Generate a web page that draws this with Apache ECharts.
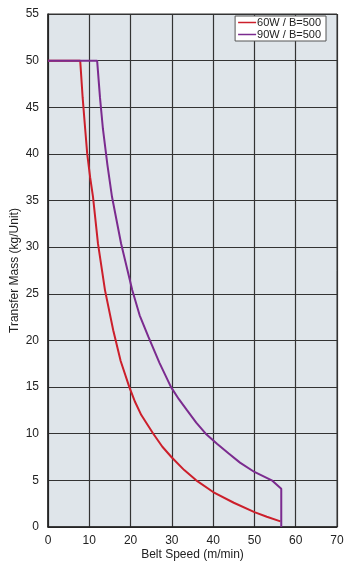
<!DOCTYPE html>
<html><head><meta charset="utf-8">
<script src="https://cdn.jsdelivr.net/npm/echarts@6/dist/echarts.min.js"></script>
<style>html,body{margin:0;padding:0;background:#fff}#c{width:357px;height:567px}</style>
</head><body><div id="c"></div>
<script>
const seriesNames = ['60W / B=500', '90W / B=500'];
const speed60 = [0, 7.8, 8.4, 9.0, 9.5, 10.2, 10.9, 12.1, 13.8, 15.8, 17.6, 19.7, 21.1, 22.6, 25.5, 27.7, 30, 33, 35.9, 40, 45, 50, 53, 56.3];
const mass60  = [50, 50, 46, 42.7, 40, 37.5, 35.4, 30.4, 25.4, 21.1, 17.8, 15, 13.4, 12, 10, 8.6, 7.45, 6.1, 5, 3.75, 2.6, 1.6, 1.1, 0.6];
const speed90 = [0, 11.9, 12.6, 13.3, 14.4, 15.5, 17.7, 20.4, 22.2, 24.3, 27, 29.8, 31.7, 33.7, 35.9, 38.2, 41, 43.7, 46.5, 50, 54.2, 56.5, 56.5];
const mass90  = [50, 50, 46, 42.7, 38.8, 35.4, 30.4, 25.4, 22.7, 20.4, 17.6, 15, 13.7, 12.5, 11.2, 10, 8.9, 7.9, 6.9, 5.9, 5, 4.1, 0];
const xTicks = [0, 10, 20, 30, 40, 50, 60, 70];
const yTicks = [0, 5, 10, 15, 20, 25, 30, 35, 40, 45, 50, 55];
const colors = ['#cc1f2b', '#7b2b8f'];

const font = '"Liberation Sans", Arial, sans-serif';
const chart = echarts.init(document.getElementById('c'));
function pairs(xs, ys){ return xs.map((x,i)=>[x, ys[i]]); }
chart.setOption({
  animation: false,
  textStyle: {fontFamily: font},
  grid: {left: 48, right: 20, top: 14, bottom: 40, containLabel: false, outerBoundsMode: 'none',
         show: true, backgroundColor: '#dfe5ea', borderColor: '#333', borderWidth: 1},
  legend: {
    data: seriesNames, orient: 'vertical', right: 31, top: 16,
    backgroundColor: '#fff', borderColor: '#555', borderWidth: 1,
    padding: [1, 5, 1, 3], itemGap: 1, itemWidth: 18, itemHeight: 1.5, icon: 'rect',
    textStyle: {fontFamily: font, fontSize: 11, color: '#222', padding: [0,0,0,-4]}
  },
  xAxis: {
    type: 'value', min: xTicks[0], max: xTicks[xTicks.length-1], interval: 10,
    name: 'Belt Speed (m/min)', nameLocation: 'middle', nameGap: 22, nameMoveOverlap: false,
    nameTextStyle: {fontFamily: font, fontSize: 12, color: '#222'},
    axisLine: {show: true, lineStyle: {color: '#222', width: 1.5}},
    axisTick: {show: false},
    axisLabel: {fontFamily: font, fontSize: 12, color: '#222', margin: 8},
    splitLine: {show: true, lineStyle: {color: '#333', width: 1.2}}
  },
  yAxis: {
    type: 'value', min: yTicks[0], max: yTicks[yTicks.length-1], interval: 5,
    name: 'Transfer Mass (kg/Unit)', nameLocation: 'middle', nameGap: 27, nameMoveOverlap: false,
    nameTextStyle: {fontFamily: font, fontSize: 12, color: '#222'},
    axisLine: {show: true, lineStyle: {color: '#222', width: 1.5}},
    axisTick: {show: false},
    axisLabel: {fontFamily: font, fontSize: 12, color: '#222', margin: 9},
    splitLine: {show: true, lineStyle: {color: '#333', width: 1.2}}
  },
  series: [
    {name: seriesNames[0], type: 'line', data: pairs(speed60, mass60), smooth: false, showSymbol: false,
     lineStyle: {color: colors[0], width: 2}, itemStyle: {color: colors[0]}},
    {name: seriesNames[1], type: 'line', data: pairs(speed90, mass90), smooth: false, showSymbol: false,
     lineStyle: {color: colors[1], width: 2}, itemStyle: {color: colors[1]}}
  ]
});
</script></body></html>
